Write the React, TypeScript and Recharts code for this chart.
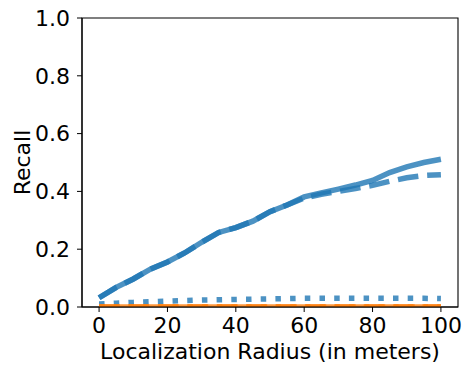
import { LineChart, Line, XAxis, YAxis, ReferenceArea, Label } from "recharts";

const radius = [0, 5, 10, 15, 20, 25, 30, 35, 40, 45, 50, 55, 60, 65, 70, 75, 80, 85, 90, 95, 100];

// blue series
const recallSolid = [0.032, 0.068, 0.097, 0.131, 0.156, 0.187, 0.224, 0.258, 0.275, 0.297, 0.33, 0.353, 0.381, 0.395, 0.408, 0.422, 0.438, 0.465, 0.485, 0.5, 0.511];
const recallDashed = [0.032, 0.068, 0.097, 0.131, 0.156, 0.187, 0.224, 0.258, 0.275, 0.297, 0.33, 0.353, 0.377, 0.39, 0.4, 0.41, 0.421, 0.435, 0.447, 0.455, 0.458];
const recallDotted = [0.01, 0.013, 0.016, 0.018, 0.02, 0.022, 0.024, 0.025, 0.026, 0.027, 0.028, 0.029, 0.03, 0.03, 0.03, 0.03, 0.03, 0.03, 0.03, 0.03, 0.029];

// orange series (all flat at zero)
const orangeSolid = [0, 0, 0, 0, 0, 0, 0, 0, 0, 0, 0, 0, 0, 0, 0, 0, 0, 0, 0, 0, 0];
const orangeDashed = [0, 0, 0, 0, 0, 0, 0, 0, 0, 0, 0, 0, 0, 0, 0, 0, 0, 0, 0, 0, 0];
const orangeDotted = [0, 0, 0, 0, 0, 0, 0, 0, 0, 0, 0, 0, 0, 0, 0, 0, 0, 0, 0, 0, 0];

const xTicks = [0, 20, 40, 60, 80, 100];
const yTicks = [0, 0.2, 0.4, 0.6, 0.8, 1.0];

const data = radius.map((r, i) => ({
    r,
    bs: recallSolid[i],
    bd: recallDashed[i],
    bt: recallDotted[i],
    os: orangeSolid[i],
    od: orangeDashed[i],
    ot: orangeDotted[i],
}));

const BLUE = "#1f77b4";
const ORANGE = "#ff7f0e";
const FONT = "'DejaVu Sans', sans-serif";

const tickStyle = { fill: "#000", fontSize: 22, fontFamily: FONT };

export default function App() {
    const lineProps = {
        type: "linear" as const,
        dot: false,
        activeDot: false,
        isAnimationActive: false,
        strokeWidth: 5.5,
        strokeOpacity: 0.8,
        strokeLinecap: "butt" as const,
    };

    return (
        <div style={{ position: "absolute", left: 0, top: 0, background: "#fff" }}>
            <LineChart
                width={472}
                height={372}
                data={data}
                margin={{ top: 18, right: 14, bottom: 0, left: 0 }}
            >
                <XAxis
                    dataKey="r"
                    type="number"
                    domain={[-5, 105]}
                    ticks={xTicks}
                    height={65}
                    tickSize={5}
                    tickMargin={5}
                    tick={tickStyle}
                    stroke="#000"
                    tickLine={{ stroke: "#000" }}
                    axisLine={{ stroke: "#000", strokeWidth: 1.1 }}
                >
                    <Label
                        content={({ viewBox }: any) => (
                            <text
                                x={viewBox.x + viewBox.width / 2}
                                y={viewBox.y + 52}
                                textAnchor="middle"
                                fontSize={22}
                                fontFamily={FONT}
                                fill="#000"
                            >
                                Localization Radius (in meters)
                            </text>
                        )}
                    />
                </XAxis>
                <YAxis
                    type="number"
                    domain={[0, 1]}
                    ticks={yTicks}
                    allowDataOverflow
                    width={82}
                    tickSize={5}
                    tickMargin={7}
                    tick={tickStyle}
                    tickFormatter={(v: number) => v.toFixed(1)}
                    stroke="#000"
                    tickLine={{ stroke: "#000" }}
                    axisLine={{ stroke: "#000", strokeWidth: 1.1 }}
                >
                    <Label
                        content={({ viewBox }: any) => {
                            const cx = viewBox.x + 22;
                            const cy = viewBox.y + viewBox.height / 2;
                            return (
                                <text
                                    x={cx}
                                    y={cy}
                                    transform={`rotate(-90 ${cx} ${cy})`}
                                    textAnchor="middle"
                                    dominantBaseline="central"
                                    fontSize={22}
                                    fontFamily={FONT}
                                    fill="#000"
                                >
                                    Recall
                                </text>
                            );
                        }}
                    />
                </YAxis>

                <Line {...lineProps} dataKey="bs" stroke={BLUE} />
                <Line {...lineProps} dataKey="bd" stroke={BLUE} strokeDasharray="20.6 8.9" />
                <Line {...lineProps} dataKey="bt" stroke={BLUE} strokeDasharray="5.5 9.2" />
                <Line {...lineProps} dataKey="os" stroke={ORANGE} />
                <Line {...lineProps} dataKey="od" stroke={ORANGE} strokeDasharray="20.6 8.9" />
                <Line {...lineProps} dataKey="ot" stroke={ORANGE} strokeDasharray="5.5 9.2" />

                <ReferenceArea
                    x1={-5}
                    x2={105}
                    y1={0}
                    y2={1}
                    fill="none"
                    fillOpacity={0}
                    stroke="#000"
                    strokeWidth={1.1}
                />
            </LineChart>
        </div>
    );
}
